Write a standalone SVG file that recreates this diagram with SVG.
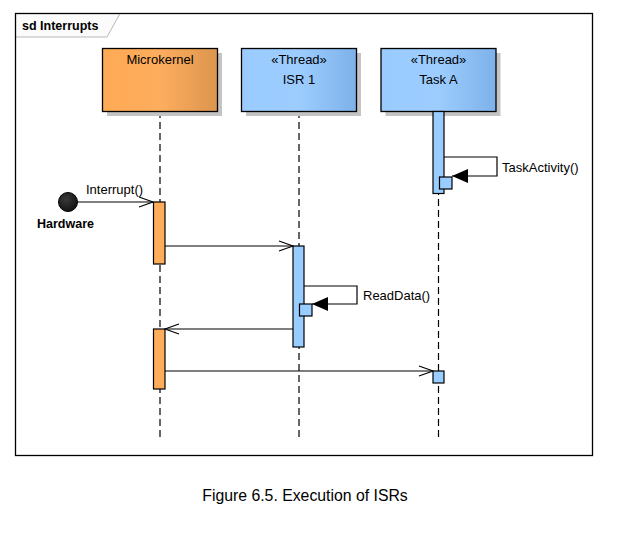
<svg xmlns="http://www.w3.org/2000/svg" width="618" height="535" viewBox="0 0 618 535">
<defs>
<linearGradient id="gOr" x1="0" y1="0" x2="1" y2="0">
<stop offset="0" stop-color="#FFAA55"/><stop offset="0.5" stop-color="#FDAD5E"/><stop offset="1" stop-color="#DC964E"/>
</linearGradient>
<linearGradient id="gBl" x1="0" y1="0" x2="1" y2="0">
<stop offset="0" stop-color="#9ACBFF"/><stop offset="0.5" stop-color="#9DCDFF"/><stop offset="1" stop-color="#7DB1E8"/>
</linearGradient>
<radialGradient id="gHw" cx="0.4" cy="0.35" r="0.7">
<stop offset="0" stop-color="#3a3a3a"/><stop offset="1" stop-color="#111"/>
</radialGradient>
<marker id="open" markerWidth="16" markerHeight="12" refX="15" refY="6" orient="auto" markerUnits="userSpaceOnUse">
<path d="M1,1 L15,6 L1,11" fill="none" stroke="#000" stroke-width="1.2"/>
</marker>
<marker id="filled" markerWidth="18" markerHeight="16" refX="17" refY="8" orient="auto" markerUnits="userSpaceOnUse">
<path d="M1,1 L17,8 L1,15 Z" fill="#000"/>
</marker>
</defs>
<style>
text{font-family:"Liberation Sans",Arial,sans-serif;fill:#000}
.lbl{font-size:13px}
.nm{font-size:13px;text-anchor:middle}
.shadow{fill:#c4c4c4}
.box{stroke:#000;stroke-width:1.3}
.life{stroke:#000;stroke-width:1.2;stroke-dasharray:7,4;fill:none}
.act{stroke:#000;stroke-width:1.2}
.msg{stroke:#000;stroke-width:1.2;fill:none}
</style>
<rect x="0" y="0" width="618" height="535" fill="#fff"/>
<g id="frame">
<path d="M15.5,13.5 L120,13.5 L107,37 L15.5,37" fill="#fbfbfb" stroke="#b8b8b8" stroke-width="1"/>
<rect x="15.5" y="13.5" width="577" height="442" fill="none" stroke="#000" stroke-width="1.3"/>
<text x="22" y="30" style="font-size:12.5px;font-weight:bold">sd Interrupts</text>
</g>
<g id="lifelines">
<line class="life" x1="160" y1="111" x2="160" y2="438"/>
<line class="life" x1="299" y1="111" x2="299" y2="438"/>
<line class="life" x1="438.5" y1="111" x2="438.5" y2="438"/>
</g>
<g id="microkernel">
<rect class="shadow" x="107" y="53" width="115" height="63"/>
<rect class="box" x="102.5" y="48.5" width="115" height="63" fill="url(#gOr)"/>
<text class="nm" x="160" y="64">Microkernel</text>
</g>
<g id="isr1">
<rect class="shadow" x="246" y="53" width="115" height="63"/>
<rect class="box" x="241.5" y="48.5" width="115" height="63" fill="url(#gBl)"/>
<text class="nm" x="299" y="64">«Thread»</text>
<text class="nm" x="299" y="84">ISR 1</text>
</g>
<g id="taskA">
<rect class="shadow" x="385.5" y="53" width="115" height="63"/>
<rect class="box" x="381" y="48.5" width="115" height="63" fill="url(#gBl)"/>
<text class="nm" x="438.5" y="64">«Thread»</text>
<text class="nm" x="438.5" y="84">Task A</text>
</g>
<g id="hardware">
<circle cx="68" cy="202" r="9.5" fill="url(#gHw)" stroke="#000" stroke-width="1"/>
<text x="37" y="228" style="font-size:12.5px;font-weight:bold">Hardware</text>
</g>
<g id="activations">
<rect class="act" x="433" y="111.5" width="11" height="82" fill="#99CCFF"/>
<rect class="act" x="439.5" y="177" width="12.5" height="12" fill="#99CCFF"/>
<rect class="act" x="153.5" y="202" width="11.5" height="62" fill="#FFAD5B"/>
<rect class="act" x="293" y="246" width="11" height="101" fill="#99CCFF"/>
<rect class="act" x="299.5" y="304" width="12.5" height="12" fill="#99CCFF"/>
<rect class="act" x="153.5" y="329" width="11.5" height="60" fill="#FFAD5B"/>
<rect class="act" x="433" y="371" width="11" height="12" fill="#99CCFF"/>
</g>
<g id="connectors">
<path class="msg" d="M444,157 L497,157 L497,176 L452,176" marker-end="url(#filled)"/>
<text class="lbl" x="502" y="172">TaskActivity()</text>
<line class="msg" x1="77.5" y1="202" x2="153" y2="202" marker-end="url(#open)"/>
<text class="lbl" x="86" y="194">Interrupt()</text>
<line class="msg" x1="165" y1="246" x2="293" y2="246" marker-end="url(#open)"/>
<path class="msg" d="M304,286 L357,286 L357,304 L312,304" marker-end="url(#filled)"/>
<text class="lbl" x="363" y="300">ReadData()</text>
<line class="msg" x1="293" y1="329" x2="165" y2="329" marker-end="url(#open)"/>
<line class="msg" x1="165" y1="371" x2="433" y2="371" marker-end="url(#open)"/>
</g>
<text x="305" y="501" style="font-size:15.8px;text-anchor:middle">Figure 6.5. Execution of ISRs</text>
</svg>
